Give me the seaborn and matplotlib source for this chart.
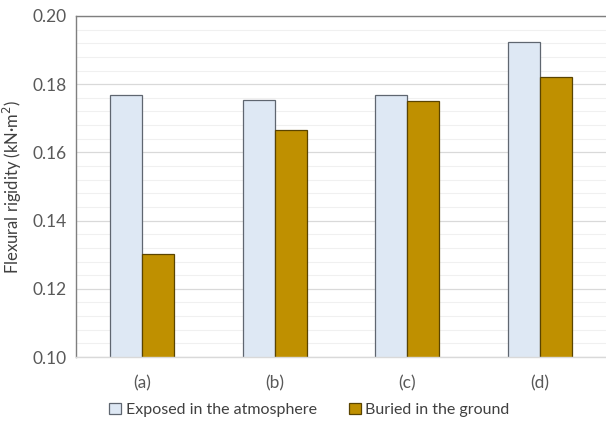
import matplotlib
matplotlib.use("Agg")
import matplotlib.pyplot as plt
from matplotlib.ticker import MultipleLocator
import seaborn as sns
import pandas as pd

categories = ["(a)", "(b)", "(c)", "(d)"]
series_names = ["Exposed in the atmosphere", "Buried in the ground"]
exposed = [0.1768, 0.1754, 0.1769, 0.1925]
buried = [0.1303, 0.1665, 0.1751, 0.1822]
y_ticks = [0.10, 0.12, 0.14, 0.16, 0.18, 0.20]

df = pd.DataFrame({
    "cat": categories * 2,
    "series": [series_names[0]] * 4 + [series_names[1]] * 4,
    "value": exposed + buried,
})

sns.set_theme(style="white")
plt.rcParams["font.family"] = ["Lato", "DejaVu Sans"]

fig = plt.figure(figsize=(6.06, 4.21), dpi=100)
ax = fig.add_axes([0.1254, 0.152, 0.8746, 0.810])

colors = ["#DEE8F4", "#BF9000"]
edge_cols = ["#5f6670", "#5a4400"]
sns.barplot(data=df, x="cat", y="value", hue="series", hue_order=series_names,
            palette=colors, saturation=1, width=0.48, ax=ax, legend=True, gap=0)

for container, ec in zip(ax.containers, edge_cols):
    for bar in container:
        bar.set_edgecolor(ec)
        bar.set_linewidth(0.9)

ax.set_xlim(-0.5, 3.5)
ax.set_ylim(0.10, 0.20)
ax.set_yticks(y_ticks)
ax.set_yticklabels([f"{t:.2f}" for t in y_ticks])
ax.yaxis.set_minor_locator(MultipleLocator(0.004))
ax.set_axisbelow(True)
ax.grid(True, which="major", axis="y", color="#d9d9d9", linewidth=0.9)
ax.grid(True, which="minor", axis="y", color="#f0f0f0", linewidth=0.8)
ax.tick_params(axis="both", which="both", length=0, labelsize=12.5,
               colors="#595959", pad=7)
ax.tick_params(axis="x", pad=13)

ax.set_xlabel("")
ax.set_ylabel("Flexural rigidity (kN·m$^2$)", fontsize=12, color="#404040",
              labelpad=6)

for side in ["left", "top"]:
    ax.spines[side].set_color("#7f7f7f")
    ax.spines[side].set_linewidth(1.0)
ax.spines["right"].set_visible(False)
ax.spines["bottom"].set_color("#d9d9d9")
ax.spines["bottom"].set_linewidth(1.0)

leg = ax.legend(loc="center", bbox_to_anchor=(0.44, -0.155), ncol=2,
                frameon=False, fontsize=11.5, handlelength=0.75,
                handleheight=0.75, handletextpad=0.3, columnspacing=2.0,
                labelcolor="#404040")
for handle, ec in zip(leg.legend_handles, edge_cols):
    handle.set_edgecolor(ec)
    handle.set_linewidth(0.9)

fig.savefig("out.png", dpi=100)
